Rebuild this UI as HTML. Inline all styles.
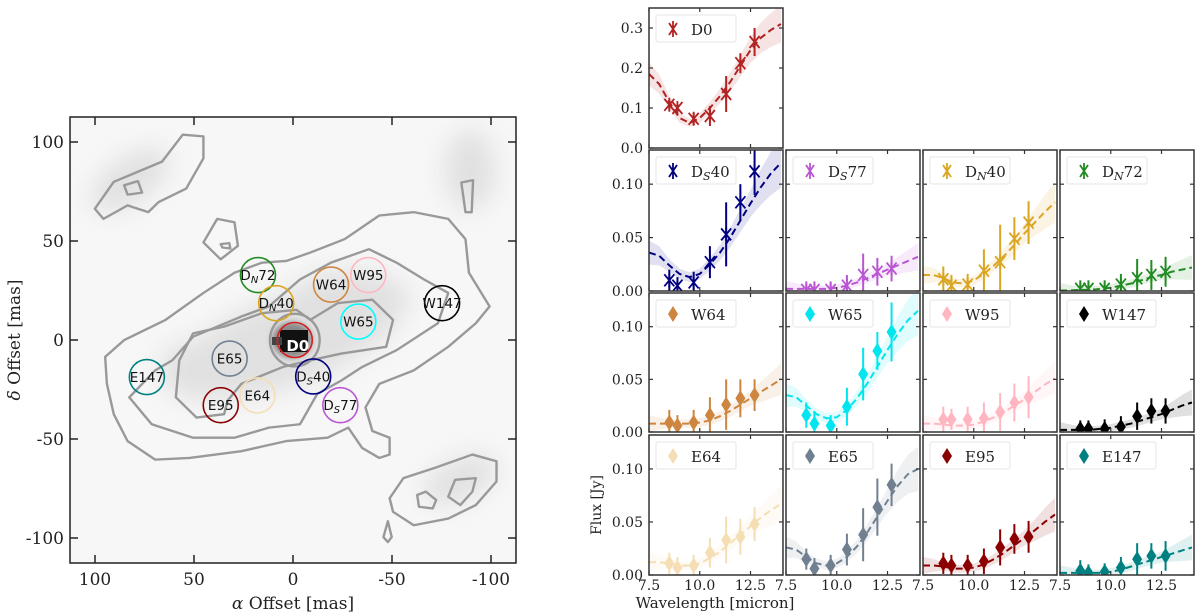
<!DOCTYPE html>
<html><head><meta charset="utf-8"><style>
body{margin:0;background:#fff;width:1200px;height:613px;overflow:hidden}
svg{display:block}
.tl{font-family:"DejaVu Serif","Liberation Serif",serif;fill:#222}
</style></head><body>
<svg id="fig" width="1200" height="613" viewBox="0 0 1200 613" xmlns="http://www.w3.org/2000/svg">
<defs>
<filter id="blur" x="-50%" y="-50%" width="200%" height="200%"><feGaussianBlur stdDeviation="12"/></filter>
<filter id="blur2" x="-50%" y="-50%" width="200%" height="200%"><feGaussianBlur stdDeviation="3"/></filter>
<clipPath id="mapclip"><rect x="70" y="117" width="446" height="446"/></clipPath>
</defs>
<g id="map" clip-path="url(#mapclip)">
  <rect x="70" y="117" width="446" height="446" fill="#f7f7f7"/>
  <g filter="url(#blur)" fill="#cfcfcf" opacity="0.55">
    <ellipse cx="130" cy="180" rx="45" ry="22" transform="rotate(-35 130 180)"/>
    <ellipse cx="290" cy="340" rx="120" ry="45" transform="rotate(-20 290 340)"/>
    <ellipse cx="350" cy="300" rx="60" ry="30"/>
    <ellipse cx="460" cy="480" rx="40" ry="20" transform="rotate(-25 460 480)"/>
    <ellipse cx="200" cy="370" rx="40" ry="30"/>
    <ellipse cx="470" cy="170" rx="25" ry="40"/>
  </g>
  <g filter="url(#blur2)">
    <ellipse cx="292" cy="340" rx="20" ry="18" fill="#888"/>
  </g>
  <rect x="280" y="330" width="28" height="22" fill="#111"/>
  <rect x="272" y="337" width="10" height="8" fill="#444"/>
  <g transform="translate(0,104.4) scale(0.3448,0.3367)" fill="none" stroke="#999" stroke-width="7" stroke-linejoin="round">
    <path d="M305,750 L360,700 L480,640 L590,560 L680,500 L760,470 L830,465 L900,440 L1000,400 L1100,330 L1200,320 L1300,340 L1350,400 L1360,500 L1420,600 L1380,650 L1300,720 L1200,790 L1100,830 L1060,900 L1080,970 L1130,990 L1130,1040 L1100,1050 L1050,1020 L1010,960 L950,990 L830,1000 L700,1030 L550,1050 L450,1055 L370,1000 L330,920 L310,830 Z"/>
    <path d="M590,410 L630,340 L680,350 L690,420 L640,460 Z"/>
    <path d="M375,870 L450,790 L500,760 L560,690 L700,630 L780,600 L870,520 L960,470 L1070,430 L1150,470 L1230,520 L1300,560 L1270,650 L1150,730 L1050,780 L990,820 L920,860 L870,950 L780,960 L680,990 L560,990 L440,950 Z"/>
    <path d="M520,760 L560,680 L650,660 L760,620 L860,610 L900,640 L980,590 L1080,580 L1140,640 L1120,720 L990,740 L900,760 L820,780 L700,830 L660,880 L650,920 L570,930 L510,870 Z"/>
    <ellipse cx="855" cy="700" rx="72" ry="78"/>
    <path d="M275,310 L330,230 L470,170 L530,90 L590,95 L590,160 L540,250 L460,290 L430,320 L370,300 L300,340 Z"/>
    <path d="M360,240 L400,228 L412,262 L370,268 Z"/>
    <path d="M1338,232 L1372,225 L1368,320 L1350,320 Z"/>
    <path d="M1130,1170 L1170,1110 L1260,1080 L1370,1040 L1440,1060 L1440,1120 L1380,1190 L1300,1230 L1200,1250 L1140,1210 Z"/>
    <path d="M1210,1160 L1235,1150 L1265,1175 L1255,1200 L1215,1195 Z"/>
    <path d="M1300,1165 L1320,1115 L1380,1110 L1370,1150 L1335,1190 Z"/>
    <path d="M1112,1285 L1125,1238 L1136,1285 L1125,1300 Z"/>
    <path d="M640,415 L665,412 L668,428 L645,425 Z"/>
  </g>
  <g id="circles"></g>
</g>
<rect x="70" y="117" width="446" height="446" fill="none" stroke="#222" stroke-width="1.5"/>
<g id="mapaxes"></g>
<text class="tl" x="293" y="609" text-anchor="middle" font-size="17"><tspan font-style="italic">α</tspan> Offset [mas]</text>
<text class="tl" x="20" y="340" text-anchor="middle" font-size="17" transform="rotate(-90 20 340)"><tspan font-style="italic">δ</tspan> Offset [mas]</text>
<g id="panels"></g>
<text class="tl" x="601" y="505" text-anchor="middle" font-size="14" transform="rotate(-90 601 505)">Flux [Jy]</text>
<text class="tl" x="715" y="608" text-anchor="middle" font-size="15">Wavelength [micron]</text>
</svg>
<script>
const NS="http://www.w3.org/2000/svg";
// ---- map data ----
const regionNames=["D0","DN72","DN40","W64","W95","W147","W65","E65","E147","DS40","E64","E95","DS77"];
const regionAlpha=[-0.9,17.7,8.5,-19.2,-38,-75.3,-33,32,73.8,-10.2,18,36.5,-23.9];
const regionDelta=[0,32.8,18.6,28,32.8,18.6,9.3,-9.4,-18.7,-18.4,-28,-32.9,-32.9];
const regionColors=["#d62020","#228b22","#daa520","#cd853f","#ffb6c1","#000000","#00ffff","#708090","#008080","#000080","#f5deb3","#8b0000","#ba55d3"];
const mapTicks=[100,50,0,-50,-100];
const ax=a=>293-a*1.98, ay=d=>340-d*1.98;
function el(tag,attrs,parent){const e=document.createElementNS(NS,tag);for(const k in attrs)e.setAttribute(k,attrs[k]);parent.appendChild(e);return e;}
function lab(n){return n.match(/^D([NS])(\d+)$/);}
const cg=document.getElementById('circles');
regionNames.forEach((n,i)=>{
  const g=el('g',{},cg);
  
  
  el('circle',{cx:ax(regionAlpha[i]),cy:ay(regionDelta[i]),r:17.5,fill:'none',stroke:regionColors[i],'stroke-width':1.6},g);
  const t=el('text',{x:ax(regionAlpha[i])+(n==="D0"?3:0),y:ay(regionDelta[i])+(n==="D0"?11:5),'text-anchor':'middle','font-family':'"DejaVu Sans","Liberation Sans",sans-serif','font-size':n==="D0"?15:13.5,'font-weight':n==="D0"?'bold':'normal',fill:n==="D0"?'#fff':'#111'},g);
  const m=lab(n);
  if(m){t.textContent='D';const s=el('tspan',{'font-size':10,dy:3,'font-style':'italic'},t);s.textContent=m[1];const r=el('tspan',{dy:-3},t);r.textContent=m[2];}
  else t.textContent=n;
});
const ma=document.getElementById('mapaxes');
mapTicks.forEach(v=>{
  const x=ax(v),y=ay(v);
  el('line',{x1:x,y1:563,x2:x,y2:555,stroke:'#222','stroke-width':1.5},ma);
  el('line',{x1:x,y1:117,x2:x,y2:125,stroke:'#222','stroke-width':1.5},ma);
  el('line',{x1:70,y1:y,x2:78,y2:y,stroke:'#222','stroke-width':1.5},ma);
  el('line',{x1:516,y1:y,x2:508,y2:y,stroke:'#222','stroke-width':1.5},ma);
  const tx=el('text',{class:'tl',x:x,y:585,'text-anchor':'middle','font-size':17},ma);tx.textContent=v;
  
  
  const ty=el('text',{class:'tl',x:64,y:y+6,'text-anchor':'end','font-size':17},ma);ty.textContent=v;
  
  
});
// ---- spectra data ----
const wavelengths=[8.5,8.9,9.7,10.5,11.3,12.0,12.7];
const modelWl=[7.5,8.0,8.5,9.0,9.5,10.0,10.5,11.0,11.5,12.0,12.5,13.0,13.5,14.0];
const xTicks=[7.5,10.0,12.5];
const yTicksTop=[0.0,0.1,0.2,0.3];
const yTicksRest=[0.00,0.05,0.10];
const fluxD0=[0.108,0.100,0.073,0.080,0.135,0.212,0.265];
const errD0=[0.012,0.010,0.015,0.025,0.045,0.025,0.035];
const modelD0=[0.185,0.16,0.115,0.075,0.063,0.075,0.10,0.13,0.165,0.205,0.245,0.275,0.295,0.31];
const fluxDS40=[0.010,0.005,0.008,0.027,0.053,0.083,0.112];
const errDS40=[0.010,0.008,0.010,0.015,0.030,0.017,0.022];
const modelDS40=[0.036,0.033,0.024,0.016,0.013,0.016,0.025,0.036,0.050,0.066,0.082,0.097,0.110,0.120];
const fluxDS77=[0.001,0.001,0.001,0.005,0.015,0.018,0.021];
const errDS77=[0.008,0.008,0.008,0.010,0.020,0.013,0.012];
const modelDS77=[0.002,0.002,0.002,0.002,0.002,0.003,0.005,0.008,0.012,0.016,0.020,0.024,0.028,0.032];
const fluxDN40=[0.011,0.005,0.006,0.019,0.027,0.049,0.064];
const errDN40=[0.012,0.010,0.010,0.020,0.035,0.020,0.020];
const modelDN40=[0.015,0.015,0.012,0.008,0.007,0.010,0.016,0.024,0.033,0.043,0.054,0.064,0.074,0.083];
const fluxDN72=[0.002,0.002,0.002,0.006,0.012,0.015,0.018];
const errDN72=[0.008,0.008,0.008,0.010,0.018,0.014,0.014];
const modelDN72=[0.0005,0.0005,0.001,0.001,0.002,0.003,0.005,0.007,0.010,0.013,0.015,0.018,0.020,0.022];
const fluxW64=[0.009,0.006,0.009,0.016,0.026,0.032,0.035];
const errW64=[0.012,0.010,0.012,0.017,0.024,0.018,0.015];
const modelW64=[0.008,0.008,0.008,0.008,0.008,0.009,0.011,0.015,0.020,0.026,0.032,0.038,0.044,0.050];
const fluxW65=[0.016,0.008,0.006,0.024,0.055,0.077,0.095];
const errW65=[0.012,0.012,0.010,0.018,0.025,0.018,0.028];
const modelW65=[0.035,0.033,0.025,0.017,0.013,0.014,0.021,0.032,0.046,0.062,0.078,0.093,0.106,0.115];
const fluxW95=[0.012,0.012,0.012,0.013,0.019,0.028,0.033];
const errW95=[0.012,0.010,0.012,0.015,0.018,0.018,0.020];
const modelW95=[0.008,0.008,0.007,0.006,0.006,0.007,0.010,0.014,0.019,0.025,0.031,0.038,0.045,0.051];
const fluxW147=[0.003,0.003,0.003,0.005,0.015,0.020,0.020];
const errW147=[0.008,0.008,0.009,0.010,0.013,0.012,0.012];
const modelW147=[0.002,0.002,0.002,0.002,0.003,0.004,0.006,0.008,0.011,0.014,0.017,0.021,0.025,0.028];
const fluxE64=[0.011,0.007,0.009,0.021,0.033,0.036,0.048];
const errE64=[0.010,0.010,0.010,0.014,0.022,0.017,0.016];
const modelE64=[0.012,0.012,0.011,0.009,0.009,0.011,0.016,0.022,0.030,0.038,0.046,0.054,0.061,0.067];
const fluxE65=[0.015,0.006,0.009,0.024,0.038,0.064,0.085];
const errE65=[0.010,0.010,0.010,0.015,0.025,0.027,0.020];
const modelE65=[0.026,0.024,0.017,0.011,0.009,0.011,0.017,0.027,0.040,0.055,0.070,0.084,0.095,0.100];
const fluxE95=[0.011,0.009,0.009,0.013,0.026,0.034,0.036];
const errE95=[0.010,0.010,0.010,0.012,0.017,0.014,0.015];
const modelE95=[0.009,0.009,0.008,0.006,0.006,0.007,0.010,0.015,0.021,0.028,0.035,0.042,0.050,0.057];
const fluxE147=[0.004,0.002,0.003,0.007,0.015,0.018,0.018];
const errE147=[0.010,0.008,0.008,0.010,0.015,0.012,0.014];
const modelE147=[0.002,0.002,0.002,0.002,0.002,0.003,0.005,0.008,0.011,0.014,0.017,0.020,0.023,0.026];

const panelDefs=[
 {n:"D0",sub:null,c:"#b22222",m:"x",f:fluxD0,e:errD0,md:modelD0,row:0,col:0},
 {n:"D",sub:["S","40"],c:"#000080",m:"x",f:fluxDS40,e:errDS40,md:modelDS40,row:1,col:0},
 {n:"D",sub:["S","77"],c:"#ba55d3",m:"x",f:fluxDS77,e:errDS77,md:modelDS77,row:1,col:1},
 {n:"D",sub:["N","40"],c:"#daa520",m:"x",f:fluxDN40,e:errDN40,md:modelDN40,row:1,col:2},
 {n:"D",sub:["N","72"],c:"#228b22",m:"x",f:fluxDN72,e:errDN72,md:modelDN72,row:1,col:3},
 {n:"W64",c:"#cd853f",m:"d",f:fluxW64,e:errW64,md:modelW64,row:2,col:0},
 {n:"W65",c:"#00e5ee",m:"d",f:fluxW65,e:errW65,md:modelW65,row:2,col:1},
 {n:"W95",c:"#ffb6c1",m:"d",f:fluxW95,e:errW95,md:modelW95,row:2,col:2},
 {n:"W147",c:"#000000",m:"d",f:fluxW147,e:errW147,md:modelW147,row:2,col:3},
 {n:"E64",c:"#f5deb3",m:"d",f:fluxE64,e:errE64,md:modelE64,row:3,col:0},
 {n:"E65",c:"#708090",m:"d",f:fluxE65,e:errE65,md:modelE65,row:3,col:1},
 {n:"E95",c:"#8b0000",m:"d",f:fluxE95,e:errE95,md:modelE95,row:3,col:2},
 {n:"E147",c:"#008080",m:"d",f:fluxE147,e:errE147,md:modelE147,row:3,col:3},
];
const rowTop=[8,150,293,435], rowBot=[148,291,432,575];
const colLeft=[649,786,923,1060], PW=134;
const pg=document.getElementById('panels');
function bandW(w,v){return v*0.12+0.003+(w>12.5?(w-12.5)*0.004:0)+(w<8.5?(8.5-w)*0.004:0);}
panelDefs.forEach((p,pi)=>{
  const L=colLeft[p.col],R=L+PW,T=rowTop[p.row],B=rowBot[p.row];
  const ymax=p.row===0?0.35:0.132;
  const X=v=>L+(v-7.5)/(14.1-7.5)*PW;
  const Y=v=>B-v/ymax*(B-T);
  const g=el('g',{},pg);
  
  
  const cid='pc'+pi;
  const cp=el('clipPath',{id:cid},g);el('rect',{x:L,y:T,width:PW,height:B-T},cp);
  const inner=el('g',{'clip-path':'url(#'+cid+')'},g);
  let up='',dn='';
  modelWl.forEach((w,i)=>{up+=(i?'L':'M')+X(w)+','+Y(p.md[i]+bandW(w,p.md[i]));});
  for(let i=modelWl.length-1;i>=0;i--){const w=modelWl[i];dn+='L'+X(w)+','+Y(Math.max(0,p.md[i]-bandW(w,p.md[i])));}
  const band=el('path',{d:up+dn+'Z',fill:p.c,'fill-opacity':0.12},inner);
  
  
  let ld='';modelWl.forEach((w,i)=>{ld+=(i?'L':'M')+X(w)+','+Y(p.md[i]);});
  const line=el('path',{d:ld,fill:'none',stroke:p.c,'stroke-width':2,'stroke-dasharray':'7,4'},inner);
  
  
  wavelengths.forEach((w,i)=>{
    const x=X(w),y=Y(p.f[i]);
    const pt=el('g',{},inner);
    
    
    el('line',{x1:x,x2:x,y1:Y(p.f[i]+p.e[i]),y2:Y(Math.max(p.f[i]-p.e[i],-0.01)),stroke:p.c,'stroke-width':2},pt);
    if(p.m==='x'){
      el('path',{d:`M${x-5},${y-6}L${x+5},${y+6}M${x+5},${y-6}L${x-5},${y+6}M${x},${y-7}L${x},${y+7}`,stroke:p.c,'stroke-width':1.8,fill:'none'},pt);
    }else{
      el('path',{d:`M${x},${y-8}L${x+5},${y}L${x},${y+8}L${x-5},${y}Z`,fill:p.c},pt);
    }
  });
  const lg=el('g',{},g);
  
  
  el('rect',{x:L+7,y:T+7,width:(p.n.length+(p.sub?2:0))>3?89:80,height:27,rx:2,fill:'#fff','fill-opacity':0.85,stroke:'#e4e4e4'},lg);
  const mx=L+24,my=T+21;
  if(p.m==='x') el('path',{d:`M${mx-4},${my-6}L${mx+4},${my+6}M${mx+4},${my-6}L${mx-4},${my+6}M${mx},${my-8}L${mx},${my+8}`,stroke:p.c,'stroke-width':1.8,fill:'none'},lg);
  else el('path',{d:`M${mx},${my-8}L${mx+5},${my}L${mx},${my+8}L${mx-5},${my}Z`,fill:p.c},lg);
  const t=el('text',{class:'tl',x:L+42,y:T+27,'font-size':15},lg);
  t.textContent=p.n;
  if(p.sub){const s=el('tspan',{'font-size':11,dy:3,'font-style':'italic'},t);s.textContent=p.sub[0];const r=el('tspan',{dy:-3},t);r.textContent=p.sub[1];}
  el('rect',{x:L,y:T,width:PW,height:B-T,fill:'none',stroke:'#333','stroke-width':1.5},g);
  xTicks.forEach(v=>{const x=X(v);
    el('line',{x1:x,x2:x,y1:B,y2:B-4,stroke:'#333','stroke-width':1.2},g);
    el('line',{x1:x,x2:x,y1:T,y2:T+4,stroke:'#333','stroke-width':1.2},g);
    if(p.row===3){const tt=el('text',{class:'tl',x:x,y:B+15,'text-anchor':'middle','font-size':14},g);tt.textContent=v.toFixed(1);
      
      }
  });
  (p.row===0?yTicksTop:yTicksRest).forEach(v=>{const y=Y(v);
    el('line',{x1:L,x2:L+4,y1:y,y2:y,stroke:'#333','stroke-width':1.2},g);
    el('line',{x1:R,x2:R-4,y1:y,y2:y,stroke:'#333','stroke-width':1.2},g);
    if(p.col===0){const tt=el('text',{class:'tl',x:L-6,y:y+5,'text-anchor':'end','font-size':14},g);tt.textContent=p.row===0?v.toFixed(1):v.toFixed(2);
      
      }
  });
});
</script>
</body></html>
